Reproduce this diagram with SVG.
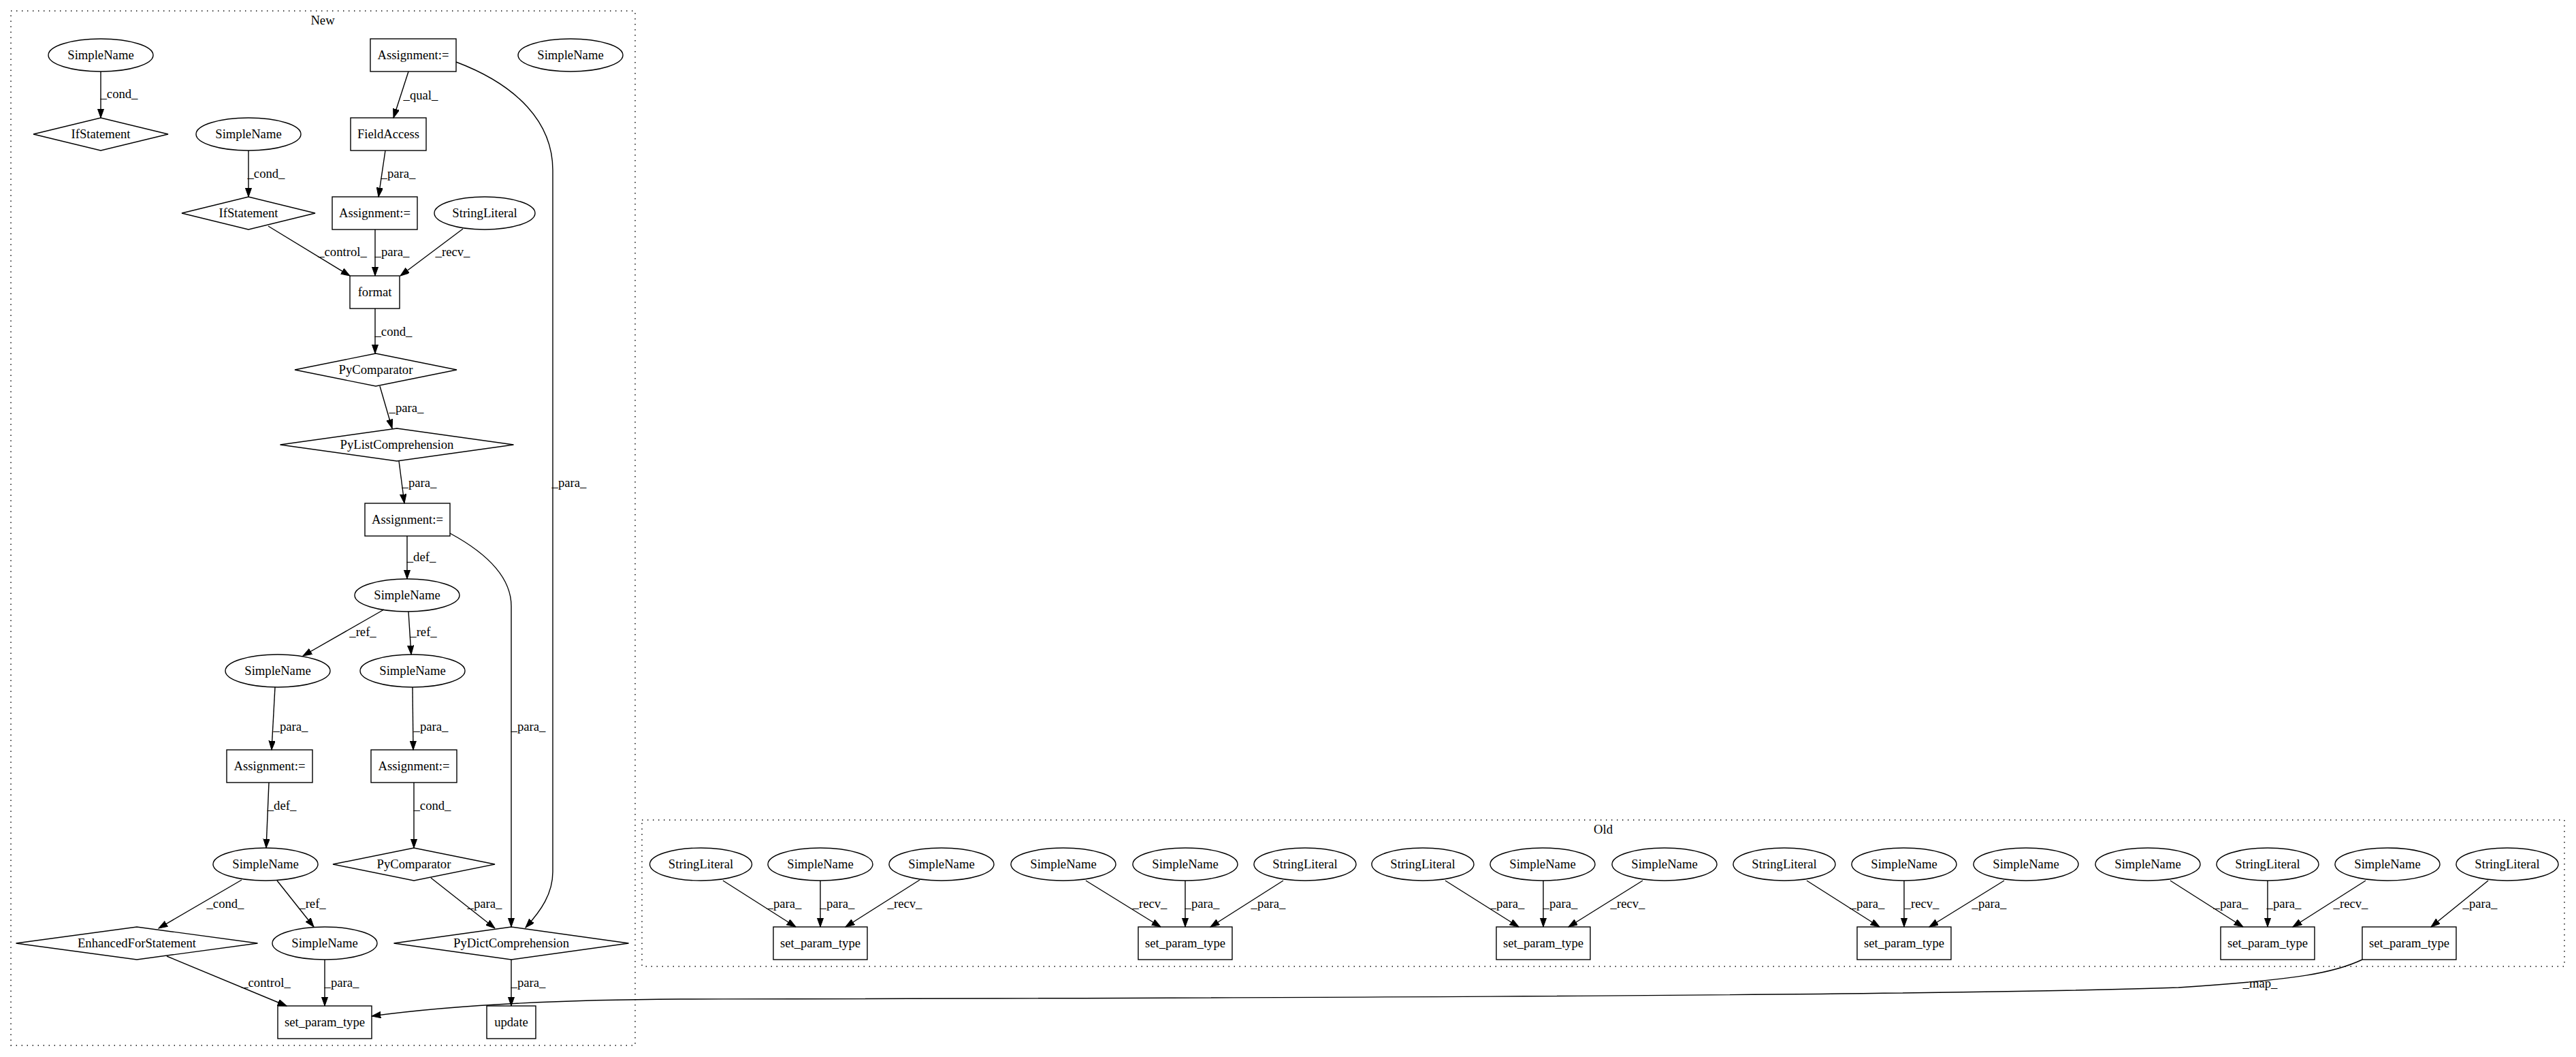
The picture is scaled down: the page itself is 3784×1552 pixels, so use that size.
<svg xmlns="http://www.w3.org/2000/svg" width="3784" height="1552" viewBox="0 0 3784 1552">
<style>
.n ellipse, .n rect, .n polygon { fill: none; stroke: #000; stroke-width: 1.4; }
text { font-family: "Liberation Serif", "Times New Roman", serif; font-size: 18.67px; text-anchor: middle; fill: #000; }
.e path { fill: none; stroke: #000; stroke-width: 1.4; marker-end: url(#arr); }
.cl { fill: none; stroke: #000; stroke-width: 1.4; stroke-dasharray: 1.4 6.6; }
</style>
<defs>
<marker id="arr" markerWidth="14" markerHeight="10" refX="13.3" refY="4.67" orient="auto" markerUnits="userSpaceOnUse"><path d="M0,0 L13.3,4.67 L0,9.33 z" fill="#000" stroke="#000" stroke-width="1"/></marker>
</defs>
<rect width="3784" height="1552" fill="#fff"/>
<g id="cluster_new"><rect class="cl" x="16" y="16" width="917" height="1519"/><text x="474" y="36">New</text></g>
<g id="cluster_old"><rect class="cl" x="943" y="1204" width="2824" height="215"/><text x="2355" y="1224">Old</text></g>

<g id="connectors" class="e">
<path d="M148,105 L148,173"/><text x="175" y="144">_cond_</text>
<path d="M600,105 L578,173"/><text x="618" y="146">_qual_</text>
<path d="M566,221 L556,289"/><text x="585" y="261">_para_</text>
<path d="M365,221 L365,289"/><text x="391" y="261">_cond_</text>
<path d="M394,332 L514,405"/><text x="503" y="376">_control_</text>
<path d="M551,337 L551,405"/><text x="576" y="376">_para_</text>
<path d="M680,336 L588,405"/><text x="665" y="376">_recv_</text>
<path d="M551,453 L551,519"/><text x="578" y="493">_cond_</text>
<path d="M558,567 L576,629"/><text x="597" y="605">_para_</text>
<path d="M586,677 L594,739"/><text x="616" y="715">_para_</text>
<path d="M598,787 L598,850"/><text x="619" y="824">_def_</text>
<path d="M564,895 L445,963"/><text x="533" y="934">_ref_</text>
<path d="M600,898 L604,961"/><text x="622" y="934">_ref_</text>
<path d="M404,1009 L399,1101"/><text x="427" y="1073">_para_</text>
<path d="M606,1009 L607,1101"/><text x="633" y="1073">_para_</text>
<path d="M395,1149 L391,1245"/><text x="414" y="1189">_def_</text>
<path d="M608,1149 L608,1245"/><text x="635" y="1189">_cond_</text>
<path d="M355,1292 L233,1363"/><text x="331" y="1333">_cond_</text>
<path d="M407,1293 L461,1361"/><text x="459" y="1333">_ref_</text>
<path d="M633,1289 L727,1363"/><text x="712" y="1333">_para_</text>
<path d="M661,783 C720,815 751,850 751,890 L751,1361"/><text x="776" y="1073">_para_</text>
<path d="M670,91 C760,125 812,180 812,250 L812,1280 C812,1312 795,1337 772,1362"/><text x="836" y="715">_para_</text>
<path d="M245,1404 L421,1477"/><text x="391" y="1449">_control_</text>
<path d="M477,1409 L477,1477"/><text x="502" y="1449">_para_</text>
<path d="M751,1409 L751,1477"/><text x="776" y="1449">_para_</text>

<path d="M1062,1293 L1169,1361"/><text x="1152" y="1333">_para_</text>
<path d="M1205,1293 L1205,1361"/><text x="1230" y="1333">_para_</text>
<path d="M1351,1292 L1242,1361"/><text x="1329" y="1333">_recv_</text>
<path d="M1595,1293 L1705,1361"/><text x="1689" y="1333">_recv_</text>
<path d="M1741,1293 L1741,1361"/><text x="1766" y="1333">_para_</text>
<path d="M1885,1293 L1778,1361"/><text x="1863" y="1333">_para_</text>
<path d="M2123,1293 L2231,1361"/><text x="2214" y="1333">_para_</text>
<path d="M2267,1293 L2267,1361"/><text x="2292" y="1333">_para_</text>
<path d="M2413,1293 L2304,1361"/><text x="2391" y="1333">_recv_</text>
<path d="M2654,1293 L2761,1361"/><text x="2743" y="1333">_para_</text>
<path d="M2797,1293 L2797,1361"/><text x="2823" y="1333">_recv_</text>
<path d="M2944,1293 L2834,1361"/><text x="2922" y="1333">_para_</text>
<path d="M3188,1293 L3295,1361"/><text x="3277" y="1333">_para_</text>
<path d="M3331,1293 L3331,1361"/><text x="3355" y="1333">_para_</text>
<path d="M3475,1293 L3368,1361"/><text x="3453" y="1333">_recv_</text>
<path d="M3655,1293 L3571,1361"/><text x="3643" y="1333">_para_</text>
<path d="M3470,1409 C3430,1428 3380,1438 3200,1450 C2800,1464 1500,1466 1000,1467 C800,1468 650,1478 546,1492"/><text x="3320" y="1450">_map_</text>
</g>

<g id="n1" class="n"><ellipse cx="148" cy="81" rx="77" ry="24"/><text x="148" y="87">SimpleName</text></g>
<g id="n2" class="n"><polygon points="49,197 148,173 247,197 148,221"/><text x="148" y="203">IfStatement</text></g>
<g id="n3" class="n"><rect x="544" y="57" width="126" height="48"/><text x="607" y="87">Assignment:=</text></g>
<g id="n4" class="n"><ellipse cx="838" cy="81" rx="77" ry="24"/><text x="838" y="87">SimpleName</text></g>
<g id="n5" class="n"><rect x="515" y="173" width="111" height="48"/><text x="570.5" y="203">FieldAccess</text></g>
<g id="n6" class="n"><ellipse cx="365" cy="197" rx="77" ry="24"/><text x="365" y="203">SimpleName</text></g>
<g id="n7" class="n"><polygon points="267,313 365,289 463,313 365,337"/><text x="365" y="319">IfStatement</text></g>
<g id="n8" class="n"><rect x="488" y="289" width="125" height="48"/><text x="550.5" y="319">Assignment:=</text></g>
<g id="n9" class="n"><ellipse cx="712" cy="313" rx="74" ry="24"/><text x="712" y="319">StringLiteral</text></g>
<g id="n10" class="n"><rect x="514" y="405" width="73" height="48"/><text x="550.5" y="435">format</text></g>
<g id="n11" class="n"><polygon points="433,543 552,519 671,543 552,567"/><text x="552" y="549">PyComparator</text></g>
<g id="n12" class="n"><polygon points="411.5,653 583,629 754.5,653 583,677"/><text x="583" y="659">PyListComprehension</text></g>
<g id="n13" class="n"><rect x="536" y="739" width="125" height="48"/><text x="598.5" y="769">Assignment:=</text></g>
<g id="n14" class="n"><ellipse cx="598" cy="874" rx="77" ry="24"/><text x="598" y="880">SimpleName</text></g>
<g id="n15" class="n"><ellipse cx="408" cy="985" rx="77" ry="24"/><text x="408" y="991">SimpleName</text></g>
<g id="n16" class="n"><ellipse cx="606" cy="985" rx="77" ry="24"/><text x="606" y="991">SimpleName</text></g>
<g id="n17" class="n"><rect x="333" y="1101" width="126" height="48"/><text x="396" y="1131">Assignment:=</text></g>
<g id="n18" class="n"><rect x="545" y="1101" width="126" height="48"/><text x="608" y="1131">Assignment:=</text></g>
<g id="n19" class="n"><ellipse cx="390" cy="1269" rx="77" ry="24"/><text x="390" y="1275">SimpleName</text></g>
<g id="n20" class="n"><polygon points="489,1269 608,1245 727,1269 608,1293"/><text x="608" y="1275">PyComparator</text></g>
<g id="n21" class="n"><polygon points="23.5,1385 201,1361 378.5,1385 201,1409"/><text x="201" y="1391">EnhancedForStatement</text></g>
<g id="n22" class="n"><ellipse cx="477" cy="1385" rx="77" ry="24"/><text x="477" y="1391">SimpleName</text></g>
<g id="n23" class="n"><polygon points="578.5,1385 751,1361 923.5,1385 751,1409"/><text x="751" y="1391">PyDictComprehension</text></g>
<g id="n24" class="n"><rect x="408" y="1477" width="138" height="48"/><text x="477" y="1507">set_param_type</text></g>
<g id="n25" class="n"><rect x="715" y="1477" width="72" height="48"/><text x="751" y="1507">update</text></g>

<g id="o1" class="n"><ellipse cx="1029.5" cy="1269" rx="75" ry="24"/><text x="1029.5" y="1275">StringLiteral</text></g>
<g id="o2" class="n"><ellipse cx="1205" cy="1269" rx="77" ry="24"/><text x="1205" y="1275">SimpleName</text></g>
<g id="o3" class="n"><ellipse cx="1383" cy="1269" rx="77" ry="24"/><text x="1383" y="1275">SimpleName</text></g>
<g id="o4" class="n"><rect x="1136" y="1361" width="138" height="48"/><text x="1205" y="1391">set_param_type</text></g>
<g id="o5" class="n"><ellipse cx="1562" cy="1269" rx="77" ry="24"/><text x="1562" y="1275">SimpleName</text></g>
<g id="o6" class="n"><ellipse cx="1741" cy="1269" rx="77" ry="24"/><text x="1741" y="1275">SimpleName</text></g>
<g id="o7" class="n"><ellipse cx="1917" cy="1269" rx="75" ry="24"/><text x="1917" y="1275">StringLiteral</text></g>
<g id="o8" class="n"><rect x="1672" y="1361" width="138" height="48"/><text x="1741" y="1391">set_param_type</text></g>
<g id="o9" class="n"><ellipse cx="2090" cy="1269" rx="75" ry="24"/><text x="2090" y="1275">StringLiteral</text></g>
<g id="o10" class="n"><ellipse cx="2266" cy="1269" rx="77" ry="24"/><text x="2266" y="1275">SimpleName</text></g>
<g id="o11" class="n"><ellipse cx="2445" cy="1269" rx="77" ry="24"/><text x="2445" y="1275">SimpleName</text></g>
<g id="o12" class="n"><rect x="2198" y="1361" width="138" height="48"/><text x="2267" y="1391">set_param_type</text></g>
<g id="o13" class="n"><ellipse cx="2621" cy="1269" rx="75" ry="24"/><text x="2621" y="1275">StringLiteral</text></g>
<g id="o14" class="n"><ellipse cx="2797" cy="1269" rx="77" ry="24"/><text x="2797" y="1275">SimpleName</text></g>
<g id="o15" class="n"><ellipse cx="2976" cy="1269" rx="77" ry="24"/><text x="2976" y="1275">SimpleName</text></g>
<g id="o16" class="n"><rect x="2728" y="1361" width="138" height="48"/><text x="2797" y="1391">set_param_type</text></g>
<g id="o17" class="n"><ellipse cx="3155" cy="1269" rx="77" ry="24"/><text x="3155" y="1275">SimpleName</text></g>
<g id="o18" class="n"><ellipse cx="3331" cy="1269" rx="75" ry="24"/><text x="3331" y="1275">StringLiteral</text></g>
<g id="o19" class="n"><ellipse cx="3507" cy="1269" rx="77" ry="24"/><text x="3507" y="1275">SimpleName</text></g>
<g id="o20" class="n"><rect x="3262" y="1361" width="138" height="48"/><text x="3331" y="1391">set_param_type</text></g>
<g id="o21" class="n"><ellipse cx="3683" cy="1269" rx="75" ry="24"/><text x="3683" y="1275">StringLiteral</text></g>
<g id="o22" class="n"><rect x="3470" y="1361" width="138" height="48"/><text x="3539" y="1391">set_param_type</text></g>
</svg>
